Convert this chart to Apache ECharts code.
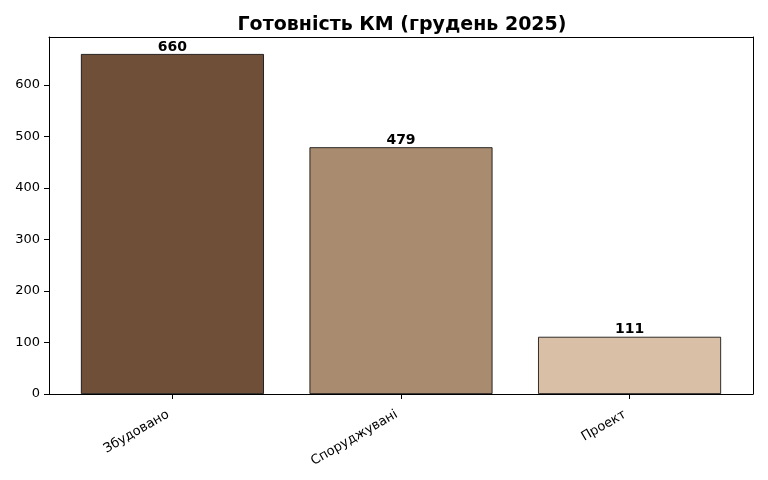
<!DOCTYPE html>
<html>
<head>
<meta charset="utf-8">
<script src="https://cdn.jsdelivr.net/npm/echarts@6/dist/echarts.min.js"></script>
<style>
  html, body { margin: 0; padding: 0; background: #fff; }
  #chart { width: 768px; height: 480px; }
</style>
</head>
<body>
<div id="chart"></div>
<script>
// дані з графіка
var categories = ['Збудовано', 'Споруджувані', 'Проект'];
var counts = [660, 479, 111];
var barColors = ['#6f4f37', '#a98b6f', '#d8bfa6'];
var yTicks = [0, 100, 200, 300, 400, 500, 600];

var FONT = 'DejaVu Sans';
var chart = echarts.init(document.getElementById('chart'));

var barData = counts.map(function (v, i) {
    return { value: [i, v], itemStyle: { color: barColors[i] } };
});

var frameLine = { show: true, onZero: false, lineStyle: { color: '#000', width: 1 } };

var option = {
    animation: false,
    textStyle: { fontFamily: FONT },
    title: {
        text: 'Готовність КМ (грудень 2025)',
        left: 397, top: 11, textAlign: 'center',
        textStyle: { fontFamily: FONT, fontSize: 19, fontWeight: 'bold', color: '#000' }
    },
    grid: { left: 49, right: 15, top: 37, bottom: 86 },
    xAxis: [{
        type: 'value', min: -0.54, max: 2.54,
        splitLine: { show: false },
        axisLine: frameLine,
        axisTick: { show: true, customValues: [0, 1, 2], length: 5, lineStyle: { color: '#000' } },
        axisLabel: {
            customValues: [0, 1, 2], rotate: 30, margin: 17, padding: [0, 5, 0, 0],
            color: '#000', fontSize: 13, fontFamily: FONT,
            formatter: function (v) { return categories[Math.round(v)]; }
        }
    }, {
        type: 'value', position: 'top', min: -0.54, max: 2.54,
        splitLine: { show: false }, axisTick: { show: false }, axisLabel: { show: false },
        axisLine: frameLine
    }],
    yAxis: [{
        type: 'value', min: 0, max: 693,
        splitLine: { show: false },
        axisLine: frameLine,
        axisTick: { show: true, customValues: yTicks, length: 5, lineStyle: { color: '#000' } },
        axisLabel: { customValues: yTicks, color: '#000', fontSize: 13, fontFamily: FONT, margin: 9 }
    }, {
        type: 'value', position: 'right', min: 0, max: 693,
        splitLine: { show: false }, axisTick: { show: false }, axisLabel: { show: false },
        axisLine: frameLine
    }],
    series: [{
        type: 'bar',
        xAxisIndex: 0, yAxisIndex: 0,
        barWidth: 183,
        data: barData,
        itemStyle: { borderColor: '#000', borderWidth: 0.8 },
        label: {
            show: true, position: 'top', distance: 0,
            color: '#000', fontSize: 14, fontWeight: 'bold', fontFamily: FONT,
            formatter: function (p) { return p.value[1]; }
        }
    }]
};

chart.setOption(option);
</script>
</body>
</html>
